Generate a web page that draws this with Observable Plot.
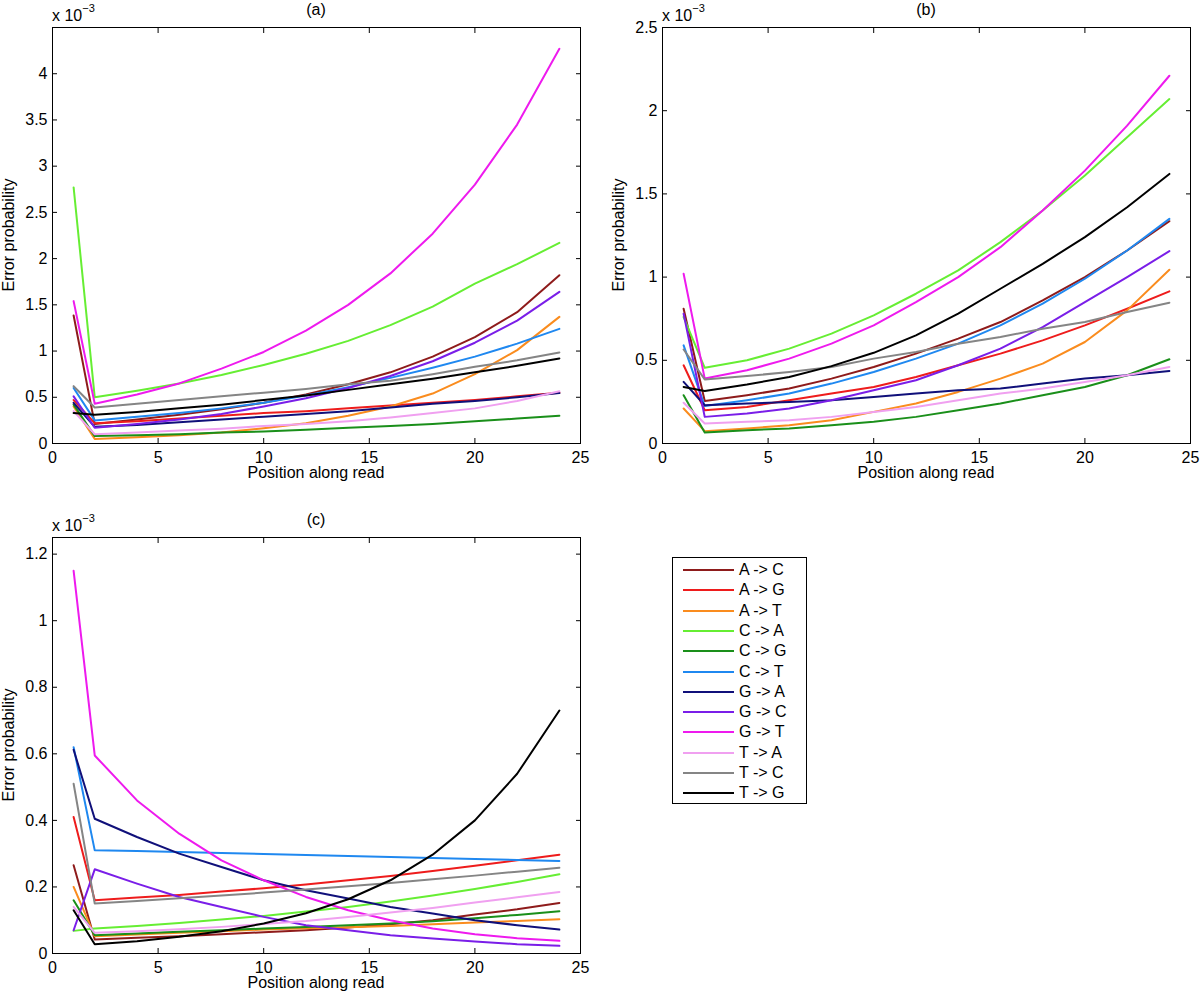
<!DOCTYPE html>
<html><head><meta charset="utf-8">
<script src="https://cdn.jsdelivr.net/npm/d3@7"></script>
<script src="https://cdn.jsdelivr.net/npm/@observablehq/plot@0.6"></script>
<style>
body{margin:0;background:#fff;font-family:"Liberation Sans",Arial,Helvetica,sans-serif;}
#root{position:relative;width:1200px;height:996px;overflow:hidden;}
.panel{position:absolute;}
.panel svg text{font-size:16px;font-family:"Liberation Sans",Arial,sans-serif;}
.t{position:absolute;font-size:16px;color:#000;white-space:nowrap;line-height:1;}
.legend{position:absolute;border:1px solid #000;background:#fff;}
.row{position:absolute;left:0;height:20px;display:flex;align-items:center;font-size:16px;}
</style></head><body><div id="root"></div>
<script>
const positions = [1, 2, 4, 6, 8, 10, 12, 14, 16, 18, 20, 22, 24];
const mutations = ["A -> C","A -> G","A -> T","C -> A","C -> G","C -> T","G -> A","G -> C","G -> T","T -> A","T -> C","T -> G"];
const colors = ["#8e1b1b","#ee1c1c","#fa8c1e","#66ee33","#1a8f1a","#1f88f0","#10107a","#7a1ee8","#ee1aee","#f0a0f0","#858585","#000000"];
const xTicks = [0, 5, 10, 15, 20, 25];
const yTicksA = [0, 0.5, 1, 1.5, 2, 2.5, 3, 3.5, 4];
const yTicksB = [0, 0.5, 1, 1.5, 2, 2.5];
const yTicksC = [0, 0.2, 0.4, 0.6, 0.8, 1, 1.2];

// values in units of 1e-3, one row per mutation, at the positions above
const panelA = [
  [1.385, 0.21, 0.26, 0.31, 0.37, 0.44, 0.53, 0.64, 0.77, 0.94, 1.15, 1.42, 1.82],
  [0.47, 0.22, 0.24, 0.27, 0.30, 0.33, 0.35, 0.38, 0.41, 0.44, 0.47, 0.51, 0.55],
  [0.40, 0.05, 0.067, 0.09, 0.12, 0.165, 0.22, 0.30, 0.40, 0.54, 0.75, 1.01, 1.37],
  [2.77, 0.50, 0.57, 0.65, 0.74, 0.85, 0.97, 1.11, 1.28, 1.48, 1.73, 1.94, 2.17],
  [0.42, 0.08, 0.09, 0.10, 0.12, 0.13, 0.15, 0.17, 0.19, 0.21, 0.24, 0.27, 0.30],
  [0.60, 0.25, 0.29, 0.33, 0.38, 0.44, 0.52, 0.61, 0.71, 0.82, 0.94, 1.08, 1.24],
  [0.44, 0.18, 0.20, 0.23, 0.26, 0.29, 0.32, 0.35, 0.39, 0.43, 0.46, 0.50, 0.545],
  [0.51, 0.17, 0.21, 0.26, 0.32, 0.40, 0.49, 0.60, 0.73, 0.89, 1.09, 1.33, 1.64],
  [1.54, 0.43, 0.53, 0.65, 0.81, 0.99, 1.22, 1.50, 1.84, 2.27, 2.80, 3.45, 4.27],
  [0.35, 0.10, 0.12, 0.14, 0.16, 0.19, 0.21, 0.24, 0.28, 0.33, 0.38, 0.46, 0.565],
  [0.62, 0.39, 0.43, 0.47, 0.51, 0.55, 0.59, 0.64, 0.68, 0.75, 0.83, 0.90, 0.985],
  [0.33, 0.31, 0.34, 0.38, 0.42, 0.47, 0.52, 0.58, 0.64, 0.70, 0.77, 0.84, 0.92]
];
const panelB = [
  [0.81, 0.255, 0.29, 0.33, 0.39, 0.46, 0.54, 0.63, 0.73, 0.86, 1.00, 1.16, 1.336],
  [0.47, 0.20, 0.22, 0.26, 0.30, 0.34, 0.40, 0.47, 0.54, 0.62, 0.71, 0.81, 0.914],
  [0.21, 0.074, 0.09, 0.11, 0.14, 0.19, 0.24, 0.31, 0.39, 0.48, 0.61, 0.80, 1.044],
  [0.76, 0.455, 0.50, 0.57, 0.66, 0.77, 0.90, 1.04, 1.21, 1.40, 1.61, 1.84, 2.07],
  [0.29, 0.066, 0.08, 0.09, 0.11, 0.13, 0.16, 0.20, 0.24, 0.29, 0.34, 0.41, 0.506],
  [0.59, 0.225, 0.26, 0.30, 0.36, 0.43, 0.51, 0.60, 0.71, 0.84, 0.99, 1.16, 1.35],
  [0.37, 0.23, 0.24, 0.25, 0.26, 0.28, 0.30, 0.32, 0.33, 0.36, 0.39, 0.41, 0.436],
  [0.78, 0.16, 0.18, 0.21, 0.26, 0.32, 0.38, 0.47, 0.57, 0.70, 0.85, 1.00, 1.156],
  [1.02, 0.39, 0.44, 0.51, 0.60, 0.71, 0.85, 1.00, 1.18, 1.40, 1.64, 1.91, 2.21],
  [0.245, 0.12, 0.13, 0.14, 0.16, 0.19, 0.22, 0.26, 0.30, 0.33, 0.37, 0.41, 0.46],
  [0.565, 0.385, 0.405, 0.43, 0.46, 0.51, 0.55, 0.60, 0.64, 0.69, 0.73, 0.79, 0.846],
  [0.34, 0.316, 0.355, 0.40, 0.465, 0.545, 0.65, 0.78, 0.93, 1.08, 1.24, 1.42, 1.62]
];
const panelC = [
  [0.265, 0.042, 0.047, 0.052, 0.058, 0.064, 0.07, 0.078, 0.088, 0.10, 0.117, 0.133, 0.152],
  [0.41, 0.16, 0.168, 0.176, 0.186, 0.196, 0.207, 0.22, 0.233, 0.248, 0.264, 0.28, 0.297],
  [0.20, 0.052, 0.057, 0.062, 0.067, 0.072, 0.076, 0.079, 0.083, 0.088, 0.093, 0.098, 0.103],
  [0.068, 0.075, 0.083, 0.092, 0.102, 0.113, 0.126, 0.14, 0.156, 0.174, 0.194, 0.215, 0.238],
  [0.16, 0.055, 0.06, 0.065, 0.07, 0.075, 0.08, 0.085, 0.09, 0.097, 0.106, 0.116, 0.127],
  [0.62, 0.31, 0.308, 0.305, 0.302, 0.299, 0.296, 0.293, 0.29, 0.287, 0.284, 0.281, 0.278],
  [0.612, 0.405, 0.35, 0.30, 0.26, 0.22, 0.19, 0.165, 0.14, 0.12, 0.10, 0.085, 0.072],
  [0.07, 0.253, 0.21, 0.17, 0.14, 0.11, 0.085, 0.07, 0.055, 0.045, 0.036, 0.028, 0.023],
  [1.15, 0.595, 0.46, 0.36, 0.28, 0.22, 0.17, 0.13, 0.10, 0.075, 0.058, 0.046, 0.038],
  [0.14, 0.062, 0.067, 0.073, 0.08, 0.089, 0.098, 0.11, 0.123, 0.137, 0.153, 0.169, 0.185],
  [0.51, 0.15, 0.158, 0.166, 0.174, 0.183, 0.192, 0.202, 0.212, 0.223, 0.234, 0.246, 0.258],
  [0.13, 0.028, 0.037, 0.05, 0.067, 0.09, 0.121, 0.163, 0.22, 0.297, 0.40, 0.54, 0.73]
];

const root = document.getElementById("root");
function addText(txt, x, y, opts = {}) {
  const d = document.createElement("div");
  d.className = "t";
  d.innerHTML = txt;
  d.style.left = x + "px";
  d.style.top = y + "px";
  if (opts.transform) d.style.transform = opts.transform;
  if (opts.origin) d.style.transformOrigin = opts.origin;
  root.appendChild(d);
  return d;
}

function makePanel(vals, yMax, yTicks, left, top, letter) {
  const data = [];
  mutations.forEach((m, i) => vals[i].forEach((v, j) => data.push({m, x: positions[j], y: v})));
  const W = 590, H = 480, ML = 52, MR = 10, MT = 27, MB = 37;
  const plot = Plot.plot({
    width: W, height: H, marginLeft: ML, marginRight: MR, marginTop: MT, marginBottom: MB,
    style: {fontFamily: "'Liberation Sans', Arial, sans-serif", fontSize: "16px", background: "transparent", color: "#000", overflow: "visible"},
    x: {domain: [0, 25]},
    y: {domain: [0, yMax]},
    color: {domain: mutations, range: colors},
    marks: [
      Plot.line(data, {x: "x", y: "y", z: "m", stroke: "m", strokeWidth: 2}),
      Plot.frame({stroke: "#000", strokeWidth: 1}),
      Plot.axisX(xTicks, {anchor: "bottom", tickSize: 5, dy: -5, tickFormat: () => "", label: null}),
      Plot.axisX(xTicks, {anchor: "top", tickSize: 5, dy: 5, tickFormat: () => "", label: null}),
      Plot.axisY(yTicks, {anchor: "left", tickSize: 5, dx: 5, tickFormat: () => "", label: null}),
      Plot.axisY(yTicks, {anchor: "right", tickSize: 5, dx: -5, tickFormat: () => "", label: null}),
      Plot.axisX(xTicks, {anchor: "bottom", tickSize: 0, tickPadding: 8, tickFormat: d => String(d), label: null, fontSize: 16}),
      Plot.axisY(yTicks, {anchor: "left", tickSize: 0, tickPadding: 5, tickFormat: d => String(d), label: null, fontSize: 16})
    ]
  });
  plot.style.maxWidth = "none";
  const wrap = document.createElement("div");
  wrap.className = "panel";
  wrap.style.left = left + "px";
  wrap.style.top = top + "px";
  wrap.style.width = W + "px";
  wrap.style.height = H + "px";
  wrap.appendChild(plot);
  root.appendChild(wrap);
  const cx = left + ML + (W - ML - MR) / 2;
  const t = addText(letter, cx, top + 2);
  t.style.transform = "translateX(-50%)";
  addText('x 10<sup style="font-size:11px;position:relative;top:-3px">\u22123</sup>', left + ML, top + 6);
  const xl = addText("Position along read", cx, top + H - 15);
  xl.style.transform = "translateX(-50%)";
  const cy = top + MT + (H - MT - MB) / 2;
  addText("Error probability", left + 1, cy, {transform: "rotate(-90deg) translateX(-50%)", origin: "0 0"});
}

makePanel(panelA, 4.5, yTicksA, 0, 0, "(a)");
makePanel(panelB, 2.5, yTicksB, 610, 0, "(b)");
makePanel(panelC, 1.25, yTicksC, 0, 510, "(c)");

// legend
const lg = document.createElement("div");
lg.className = "legend";
lg.style.left = "672px"; lg.style.top = "557px"; lg.style.width = "133px"; lg.style.height = "245px";
mutations.forEach((m, i) => {
  const r = document.createElement("div");
  r.className = "row";
  r.style.top = (2 + i * 20.3) + "px";
  r.innerHTML = `<svg width="66" height="20"><line x1="10" x2="61" y1="10" y2="10" stroke="${colors[i]}" stroke-width="2"/></svg><span>${m}</span>`;
  lg.appendChild(r);
});
root.appendChild(lg);
</script></body></html>
